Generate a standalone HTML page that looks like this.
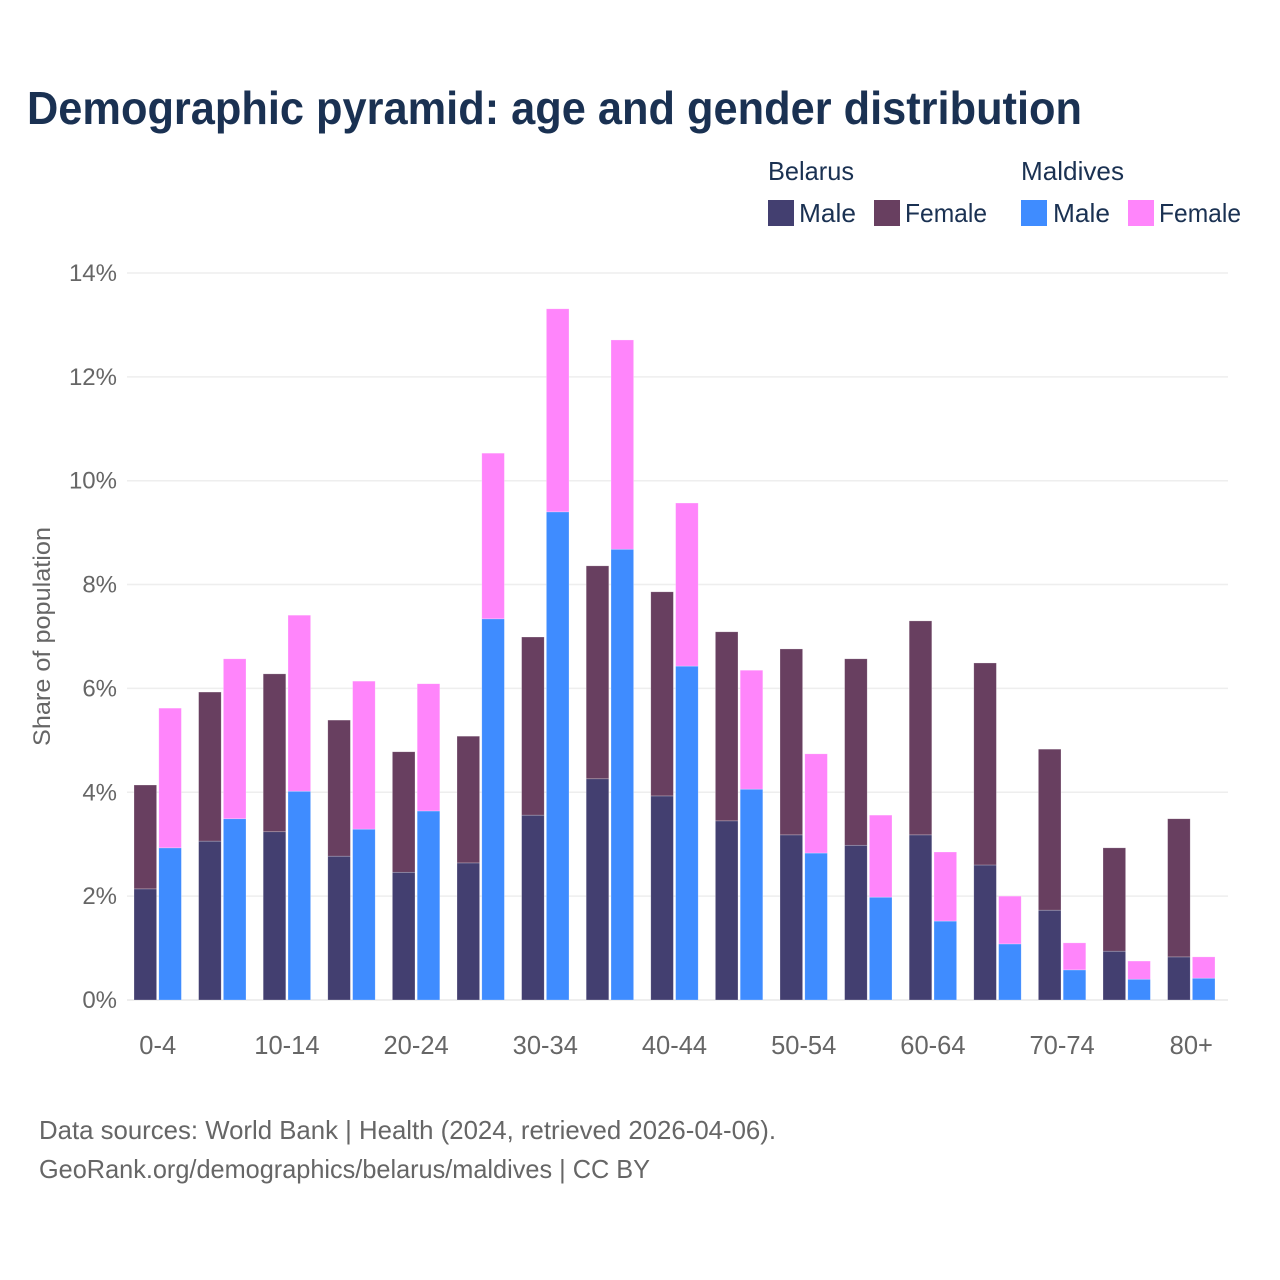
<!DOCTYPE html>
<html lang="en">
<head>
<meta charset="utf-8">
<title>Demographic pyramid: age and gender distribution</title>
<style>
html,body{margin:0;padding:0;background:#fff;}
svg{display:block;font-family:"Liberation Sans",sans-serif;}
</style>
</head>
<body>
<svg id="chart" width="1280" height="1280" viewBox="0 0 1280 1280" xmlns="http://www.w3.org/2000/svg">
  <rect x="0" y="0" width="1280" height="1280" fill="#fff"/>
  <text x="27" y="124" font-size="46" font-weight="700" fill="#1a3152" textLength="1055" lengthAdjust="spacingAndGlyphs">Demographic pyramid: age and gender distribution</text>

  <g font-size="26" fill="#1a3152">
    <text x="768" y="180" textLength="86" lengthAdjust="spacingAndGlyphs">Belarus</text>
    <text x="1021" y="180" textLength="103" lengthAdjust="spacingAndGlyphs">Maldives</text>
    <rect x="768" y="200" width="26" height="26" fill="#433f70"/>
    <text x="799" y="222" textLength="57" lengthAdjust="spacingAndGlyphs">Male</text>
    <rect x="874" y="200" width="26" height="26" fill="#683f60"/>
    <text x="905" y="222" textLength="82" lengthAdjust="spacingAndGlyphs">Female</text>
    <rect x="1021" y="200" width="26" height="26" fill="#3f8cff"/>
    <text x="1053" y="222" textLength="57" lengthAdjust="spacingAndGlyphs">Male</text>
    <rect x="1128" y="200" width="26" height="26" fill="#ff85fb"/>
    <text x="1159" y="222" textLength="82" lengthAdjust="spacingAndGlyphs">Female</text>
  </g>

  <g id="grid"></g>
  <g id="y-ticks"></g>
  <g id="bars"></g>
  <g id="x-ticks"></g>

  <text transform="translate(50,636.5) rotate(-90)" text-anchor="middle" font-size="24" fill="#666" textLength="219" lengthAdjust="spacingAndGlyphs">Share of population</text>

  <text x="39" y="1139" font-size="26" fill="#666" textLength="737" lengthAdjust="spacingAndGlyphs">Data sources: World Bank | Health (2024, retrieved 2026-04-06).</text>
  <text x="39" y="1178" font-size="26" fill="#666" textLength="611" lengthAdjust="spacingAndGlyphs">GeoRank.org/demographics/belarus/maldives | CC BY</text>
</svg>
<script>
const categories = ["0-4","5-9","10-14","15-19","20-24","25-29","30-34","35-39","40-44","45-49","50-54","55-59","60-64","65-69","70-74","75-79","80+"];
const belarusMale = [2.14,3.06,3.24,2.77,2.46,2.64,3.56,4.26,3.93,3.45,3.18,2.98,3.18,2.60,1.73,0.94,0.83];
const belarusFemale = [2.00,2.87,3.04,2.62,2.32,2.44,3.43,4.10,3.93,3.64,3.58,3.59,4.12,3.89,3.10,1.99,2.66];
const maldivesMale = [2.93,3.49,4.02,3.29,3.64,7.34,9.40,8.68,6.43,4.06,2.83,1.98,1.52,1.08,0.58,0.40,0.42];
const maldivesFemale = [2.69,3.08,3.39,2.85,2.45,3.19,3.91,4.03,3.14,2.29,1.91,1.58,1.33,0.92,0.52,0.35,0.41];
const yTicks = [0,2,4,6,8,10,12,14];

const NS = "http://www.w3.org/2000/svg";
const plotLeft = 127, plotRight = 1228, plotZero = 1000, pxPerUnit = 51.93;
const groupStart = 157.7, groupStep = 64.6, barWidth = 22.6, barGap = 2.2;

function yScale(v) { return plotZero - v * pxPerUnit; }
function xCenter(i) { return groupStart + i * groupStep; }

function make(tag, attrs, parent, text) {
  const el = document.createElementNS(NS, tag);
  for (const k in attrs) el.setAttribute(k, attrs[k]);
  if (text !== undefined) el.textContent = text;
  parent.appendChild(el);
  return el;
}

const gridG = document.getElementById("grid");
const yTickG = document.getElementById("y-ticks");
const barsG = document.getElementById("bars");
const xTickG = document.getElementById("x-ticks");

yTicks.forEach(function (t) {
  const line = make("line", {x1: plotLeft, x2: plotRight, y1: yScale(t), y2: yScale(t), stroke: "#eeeeee", "stroke-width": t === 0 ? 2 : 1.5}, gridG);
  
  
  const label = make("text", {x: 117, y: yScale(t) + 8, "text-anchor": "end", "font-size": 24, fill: "#666"}, yTickG, t + "%");
  
  
});

function drawSegment(x, base, value, fill) {
  const top = yScale(base + value);
  const rect = make("rect", {x: x, y: top, width: barWidth, height: yScale(base) - top, fill: fill, stroke: "#fff", "stroke-opacity": 0.4, "stroke-width": 0.6}, barsG);
  
  
}

categories.forEach(function (cat, i) {
  const c = xCenter(i);
  const leftX = c - barGap / 2 - barWidth;
  const rightX = c + barGap / 2;
  drawSegment(leftX, 0, belarusMale[i], "#433f70");
  drawSegment(leftX, belarusMale[i], belarusFemale[i], "#683f60");
  drawSegment(rightX, 0, maldivesMale[i], "#3f8cff");
  drawSegment(rightX, maldivesMale[i], maldivesFemale[i], "#ff85fb");
  if (i % 2 === 0) {
    const label = make("text", {x: c, y: 1054, "text-anchor": "middle", "font-size": 25.5, fill: "#666"}, xTickG, cat);
    
    
  }
});
</script>
</body>
</html>
